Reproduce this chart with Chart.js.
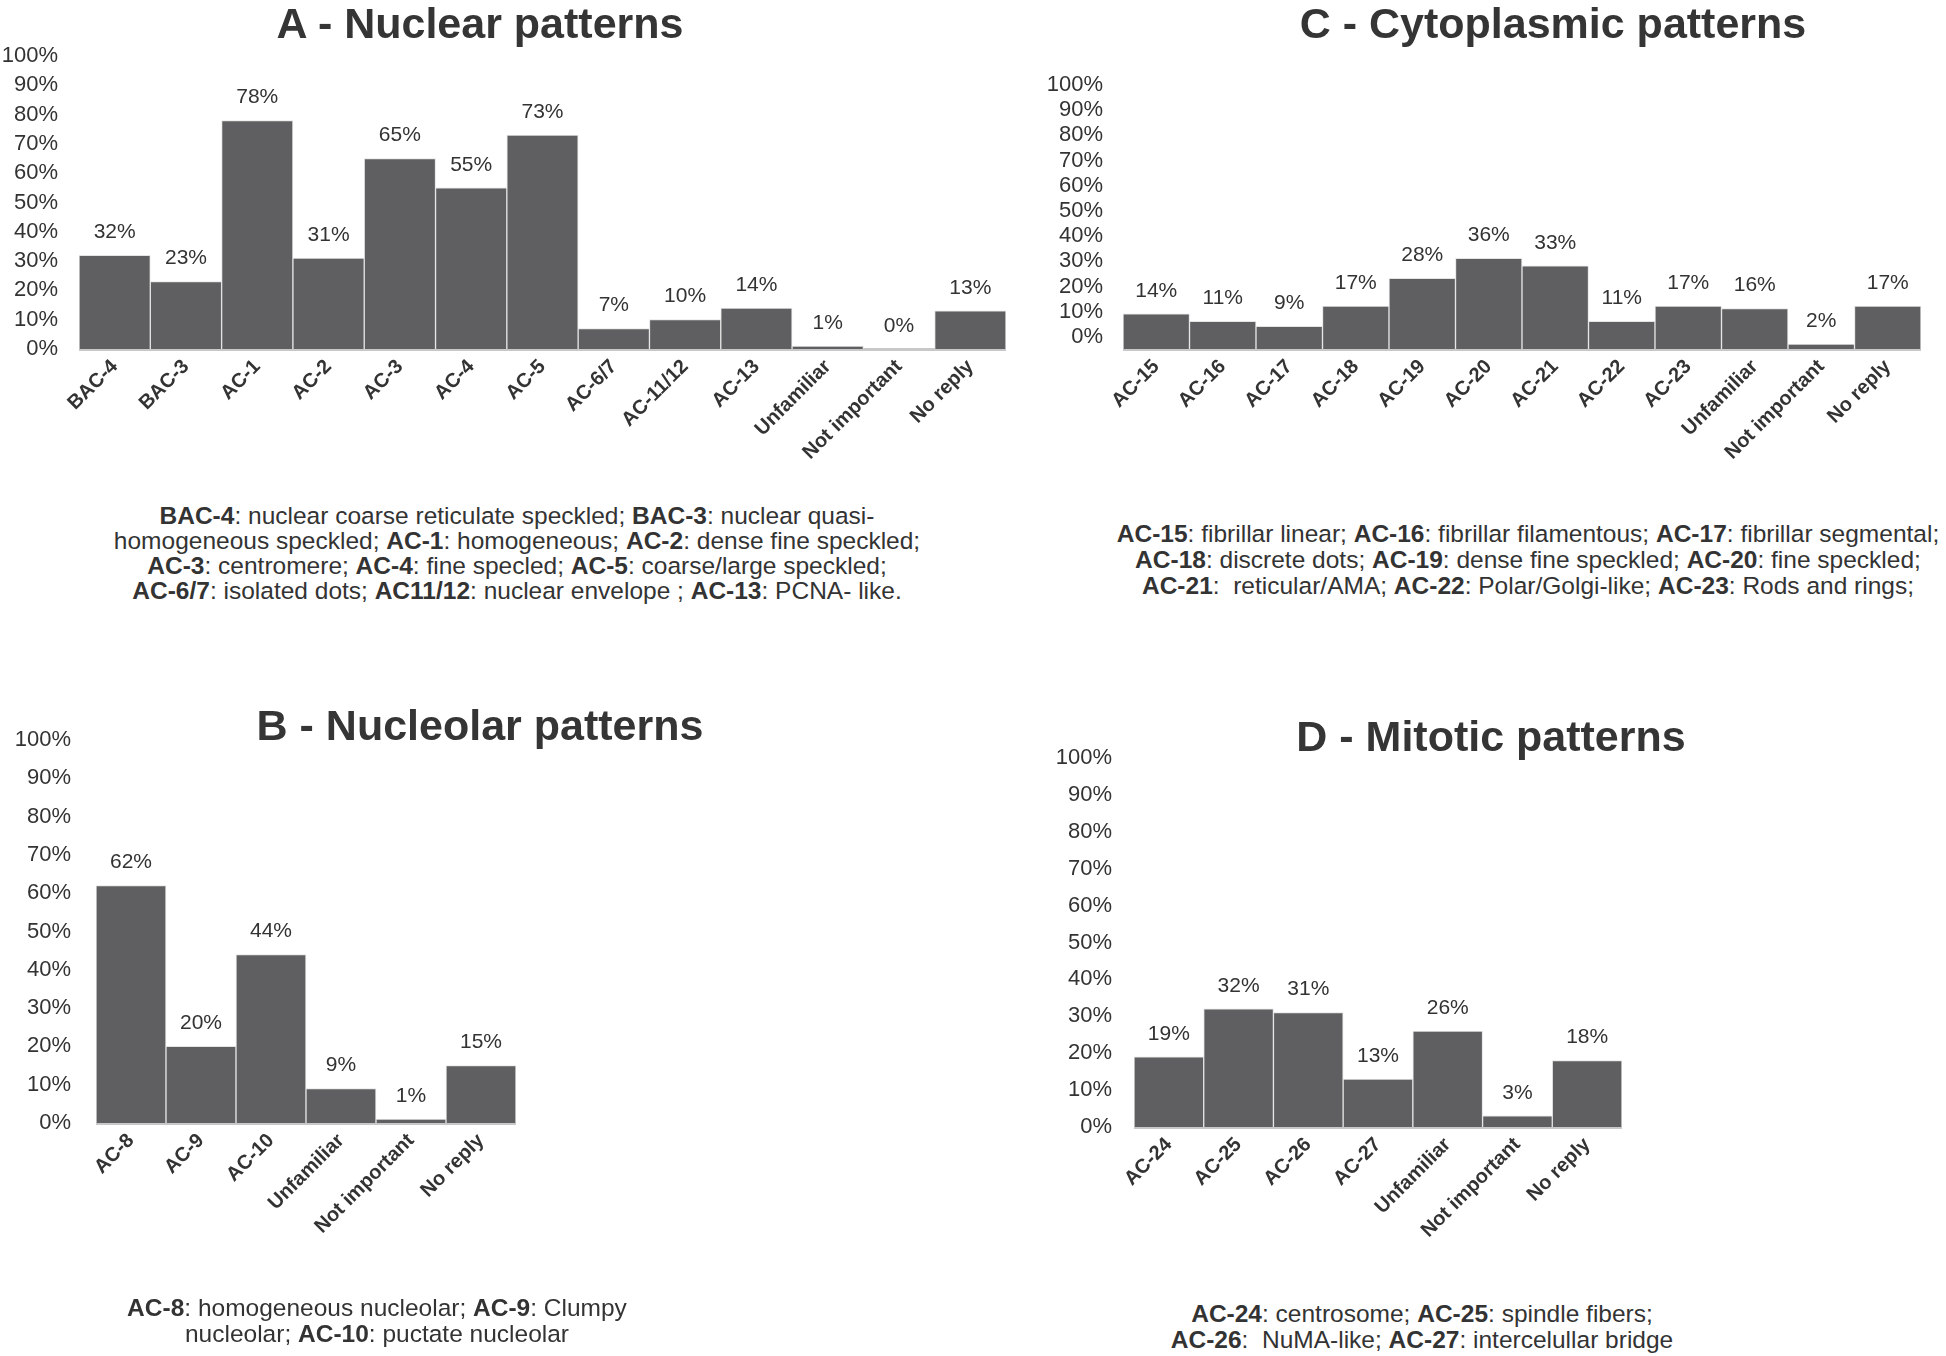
<!DOCTYPE html>
<html><head><meta charset="utf-8">
<script src="https://cdn.jsdelivr.net/npm/chart.js@4.4.1/dist/chart.umd.min.js"></script>
<style>
html,body{margin:0;padding:0;background:#fff;width:1946px;height:1356px;overflow:hidden;font-family:"Liberation Sans",Arial,sans-serif;color:#333;}
canvas{position:absolute;}
.title{position:absolute;font-weight:bold;font-size:43px;line-height:1;white-space:nowrap;transform:translate(-50%,-50%);color:#353535;}
.note{position:absolute;font-size:24.5px;line-height:25px;text-align:center;white-space:nowrap;transform:translateX(-50%);color:#333;}
.note b{font-weight:bold}
</style></head><body>
<canvas id="cA"></canvas>
<canvas id="cB"></canvas>
<canvas id="cC"></canvas>
<canvas id="cD"></canvas>
<div class="title" style="left:480px;top:23px">A - Nuclear patterns</div>
<div class="title" style="left:1553px;top:23px">C - Cytoplasmic patterns</div>
<div class="title" style="left:480px;top:725px">B - Nucleolar patterns</div>
<div class="title" style="left:1491px;top:736px">D - Mitotic patterns</div>
<div class="note" style="left:517px;top:503px"><b>BAC-4</b>: nuclear coarse reticulate speckled; <b>BAC-3</b>: nuclear quasi-<br>homogeneous speckled; <b>AC-1</b>: homogeneous; <b>AC-2</b>: dense fine speckled;<br><b>AC-3</b>: centromere; <b>AC-4</b>: fine specled; <b>AC-5</b>: coarse/large speckled;<br><b>AC-6/7</b>: isolated dots; <b>AC11/12</b>: nuclear envelope ; <b>AC-13</b>: PCNA- like.</div>
<div class="note" style="left:1528px;top:521px;line-height:26px"><b>AC-15</b>: fibrillar linear; <b>AC-16</b>: fibrillar filamentous; <b>AC-17</b>: fibrillar segmental;<br><b>AC-18</b>: discrete dots; <b>AC-19</b>: dense fine speckled; <b>AC-20</b>: fine speckled;<br><b>AC-21</b>:&nbsp; reticular/AMA; <b>AC-22</b>: Polar/Golgi-like; <b>AC-23</b>: Rods and rings;</div>
<div class="note" style="left:377px;top:1295px;line-height:26px"><b>AC-8</b>: homogeneous nucleolar; <b>AC-9</b>: Clumpy<br>nucleolar; <b>AC-10</b>: puctate nucleolar</div>
<div class="note" style="left:1422px;top:1301px;line-height:26px"><b>AC-24</b>: centrosome; <b>AC-25</b>: spindle fibers;<br><b>AC-26</b>:&nbsp; NuMA-like; <b>AC-27</b>: intercelullar bridge</div>
<script>
// ---- data ----
const nuclearCategories = ['BAC-4','BAC-3','AC-1','AC-2','AC-3','AC-4','AC-5','AC-6/7','AC-11/12','AC-13','Unfamiliar','Not important','No reply'];
const nuclearValues = [32,23,78,31,65,55,73,7,10,14,1,0,13];
const cytoplasmicCategories = ['AC-15','AC-16','AC-17','AC-18','AC-19','AC-20','AC-21','AC-22','AC-23','Unfamiliar','Not important','No reply'];
const cytoplasmicValues = [14,11,9,17,28,36,33,11,17,16,2,17];
const nucleolarCategories = ['AC-8','AC-9','AC-10','Unfamiliar','Not important','No reply'];
const nucleolarValues = [62,20,44,9,1,15];
const mitoticCategories = ['AC-24','AC-25','AC-26','AC-27','Unfamiliar','Not important','No reply'];
const mitoticValues = [19,32,31,13,26,3,18];
const yTickMin = 0, yTickMax = 100, yTickStep = 10;

const FONT = '"Liberation Sans", Arial, sans-serif';
const BAR = '#5f5f61';

const decorations = {
  id: 'decorations',
  beforeDatasetsDraw(chart) {
    const {ctx, chartArea} = chart;
    const y0 = chart.scales.y.getPixelForValue(0);
    ctx.save();
    ctx.strokeStyle = '#c8c8c8';
    ctx.lineWidth = 3;
    ctx.beginPath();
    ctx.moveTo(chartArea.left, y0 + 0.5);
    ctx.lineTo(chartArea.right, y0 + 0.5);
    ctx.stroke();
    ctx.restore();
  },
  afterDatasetsDraw(chart) {
    const {ctx} = chart;
    const meta = chart.getDatasetMeta(0);
    const data = chart.data.datasets[0].data;
    ctx.save();
    ctx.font = '21px ' + FONT;
    ctx.fillStyle = '#333';
    ctx.textAlign = 'center';
    ctx.textBaseline = 'middle';
    meta.data.forEach((bar, i) => {
      ctx.fillText(data[i] + '%', bar.x, bar.y - 23);
    });
    ctx.restore();
  }
};

function makeChart(id, cats, vals, g) {
  const cv = document.getElementById(id);
  cv.style.left = g.left + 'px';
  cv.style.top = g.top + 'px';
  cv.width = g.width; cv.height = g.height;
  cv.style.width = g.width + 'px'; cv.style.height = g.height + 'px';
  return new Chart(cv, {
    type: 'bar',
    data: {
      labels: cats,
      datasets: [{
        data: vals,
        backgroundColor: BAR,
        borderColor: '#e4e4e4',
        borderWidth: 1,
        barPercentage: 1,
        categoryPercentage: 1
      }]
    },
    plugins: [decorations],
    options: {
      responsive: false,
      animation: false,
      devicePixelRatio: 1,
      layout: {padding: {left: 0, top: g.areaTop - g.top, right: g.left + g.width - g.areaRight, bottom: 0}},
      plugins: {legend: {display: false}, tooltip: {enabled: false}, title: {display: false}},
      scales: {
        y: {
          min: yTickMin, max: yTickMax,
          grid: {display: false, drawTicks: false},
          border: {display: false},
          ticks: {
            stepSize: yTickStep,
            autoSkip: false,
            callback: v => v + '%',
            font: {size: 22, family: FONT},
            color: '#333',
            padding: g.tickPad,
            labelOffset: g.labelOffset || 0
          },
          afterFit: s => { s.width = g.areaLeft - g.left; }
        },
        x: {
          grid: {display: false, drawTicks: false},
          border: {display: false},
          ticks: {
            autoSkip: false,
            maxRotation: 45, minRotation: 45,
            font: {size: 20, weight: 'bold', family: FONT},
            color: '#333',
            padding: 6
          },
          afterFit: s => { s.height = g.top + g.height - g.areaBottom; }
        }
      }
    }
  });
}

makeChart('cA', nuclearCategories, nuclearValues,
  {left: 0, top: 0, width: 1020, height: 500, areaLeft: 79, areaRight: 1006, areaTop: 56, areaBottom: 349, tickPad: 21});
makeChart('cC', cytoplasmicCategories, cytoplasmicValues,
  {left: 1030, top: 0, width: 916, height: 500, areaLeft: 1123, areaRight: 1921, areaTop: 97, areaBottom: 349, tickPad: 20, labelOffset: -12});
makeChart('cB', nucleolarCategories, nucleolarValues,
  {left: 0, top: 680, width: 640, height: 615, areaLeft: 96, areaRight: 516, areaTop: 740, areaBottom: 1123, tickPad: 25});
makeChart('cD', mitoticCategories, mitoticValues,
  {left: 1030, top: 680, width: 800, height: 615, areaLeft: 1134, areaRight: 1622, areaTop: 758, areaBottom: 1127, tickPad: 22});
</script>
</body></html>
